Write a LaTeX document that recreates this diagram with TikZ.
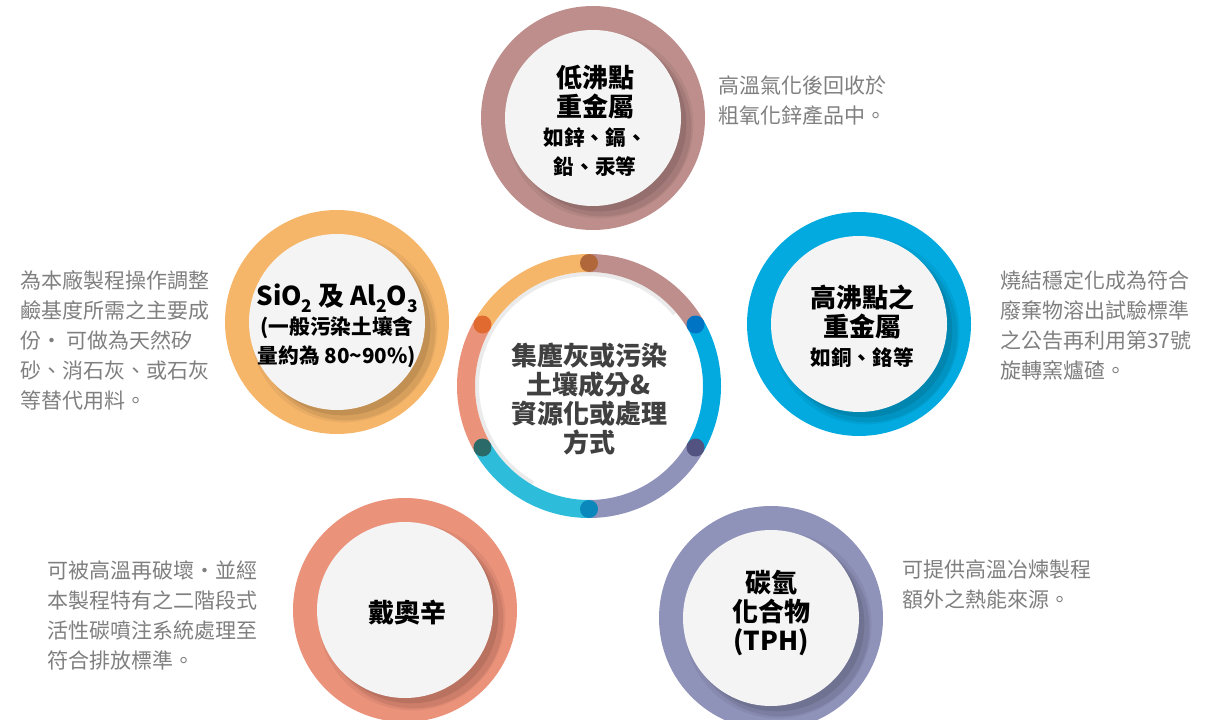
\documentclass[tikz,border=0pt]{standalone}
\usepackage{fontspec}
\setmainfont{Noto Sans CJK TC}
\usepackage{xcolor}
\usetikzlibrary{positioning}
\definecolor{topc}{HTML}{BD8E8B}
\definecolor{cyanc}{HTML}{02AADF}
\definecolor{lavc}{HTML}{8F92B9}
\definecolor{salc}{HTML}{EA927A}
\definecolor{orac}{HTML}{F6B66A}
\definecolor{lcyanc}{HTML}{2EBCDB}
\definecolor{innerc}{HTML}{F4F4F4}
\definecolor{descc}{HTML}{7F7F7F}
\definecolor{hubtextc}{HTML}{404040}
\definecolor{dota}{HTML}{B0683A}
\definecolor{dotb}{HTML}{0074C4}
\definecolor{dotc}{HTML}{535381}
\definecolor{dotd}{HTML}{0A88BC}
\definecolor{dote}{HTML}{2A6B6A}
\definecolor{dotf}{HTML}{E06A30}
\newcommand{\smallline}[1]{{\fontsize{15.5}{21.75}\selectfont #1}}
\newcommand{\chemsub}[1]{\raisebox{-0.45ex}{\fontsize{13}{13}\selectfont #1}}
\tikzset{
title/.style = {align = center, font = \bfseries\fontsize{19.5}{21.75}\selectfont, text = black, inner sep = 0pt},
hub title/.style = {title, text = hubtextc},
desc/.style = {align = left, font = \fontsize{15.75}{22.5}\selectfont, text = descc, inner sep = 0pt, anchor = base west},
ring seg/.style = {line width = 13.5pt},
}
\tikzset{
pics/topic ring/.style = {
        code = {
        \fill[#1] (0, 0) circle[radius = 84pt];
        \begin{scope}
        \clip (0, 0) circle[radius = 84pt];
        \fill[#1!55!black, opacity = 0.12] (7, -7) circle[radius = 70pt];
        \fill[#1!55!black, opacity = 0.18] (9, -9) circle[radius = 67pt];
        \fill[#1!55!black, opacity = 0.25] (6, -6) circle[radius = 65.5pt];
        \end{scope}
        \fill[innerc] (0, 0) circle[radius = 66pt];
        }
    }
}
\begin{document}
\begin{tikzpicture}[x = 0.75pt, y = 0.75pt]
      \useasboundingbox (0, 0) rectangle (1209, -720);
      % outer topics
      \path (593, -118) pic{topic ring = topc};
      \path (859, -324) pic{topic ring = cyanc};
      \path (337, -322) pic{topic ring = orac};
      \path (405, -610) pic{topic ring = salc};
      \path (771, -618) pic{topic ring = lavc};
      % hub ring
      \coordinate (hubc) at (589, -386);
      \fill[white] (hubc) circle[radius = 85pt];
      \draw[black!8, line width = 3pt] (hubc) ++(40:84pt) arc[start angle = 40, delta angle = 200, radius = 84pt];
      \foreach \a/\c in {30/topc, -30/cyanc, -90/lavc, 210/lcyanc, 150/salc, 90/orac}
        \draw[ring seg, \c] (hubc) ++(\a:92.25pt) arc[start angle = \a, delta angle = 60, radius = 92.25pt];
      \foreach \a/\c in {90/dota, 30/dotb, -30/dotc, -90/dotd, 210/dote, 150/dotf}
        \fill[\c] (hubc) ++(\a:92.25pt) circle[radius = 6.75pt];
      % titles
      \node[hub title] (hub) at (589, -399) {集塵灰或污染\\土壤成分\&\\資源化或處理\\方式};
      \node[title] (lowbp) at (595, -121) {低沸點\\重金屬\\\smallline{如鋅、鎘、}\\\smallline{鉛、汞等}};
      \node[title] (highbp) at (862, -326) {高沸點之\\重金屬\\\smallline{如銅、鉻等}};
      \node[title] (silica) at (337, -326) {SiO\chemsub{2} 及 Al\chemsub{2}O\chemsub{3}\\\smallline{(一般污染土壤含}\\\smallline{量約為 80\textasciitilde 90\%)}};
      \node[title] (dioxin) at (407, -613) {戴奧辛};
      \node[title] (tph) at (771, -613) {碳氫\\化合物\\(TPH)};
      % descriptions (base = last line)
      \node[desc] (lowbpdesc) at (718, -124) {高溫氣化後回收於\\粗氧化鋅產品中。};
      \node[desc] (highbpdesc) at (1000, -378) {燒結穩定化成為符合\\廢棄物溶出試驗標準\\之公告再利用第37號\\旋轉窯爐碴。};
      \node[desc] (silicadesc) at (20, -408) {為本廠製程操作調整\\鹼基度所需之主要成\\份・ 可做為天然矽\\砂、消石灰、或石灰\\等替代用料。};
      \node[desc] (dioxindesc) at (47, -668) {可被高溫再破壞・並經\\本製程特有之二階段式\\活性碳噴注系統處理至\\符合排放標準。};
      \node[desc] (tphdesc) at (902, -607) {可提供高溫冶煉製程\\額外之熱能來源。};
\end{tikzpicture}
\end{document}
